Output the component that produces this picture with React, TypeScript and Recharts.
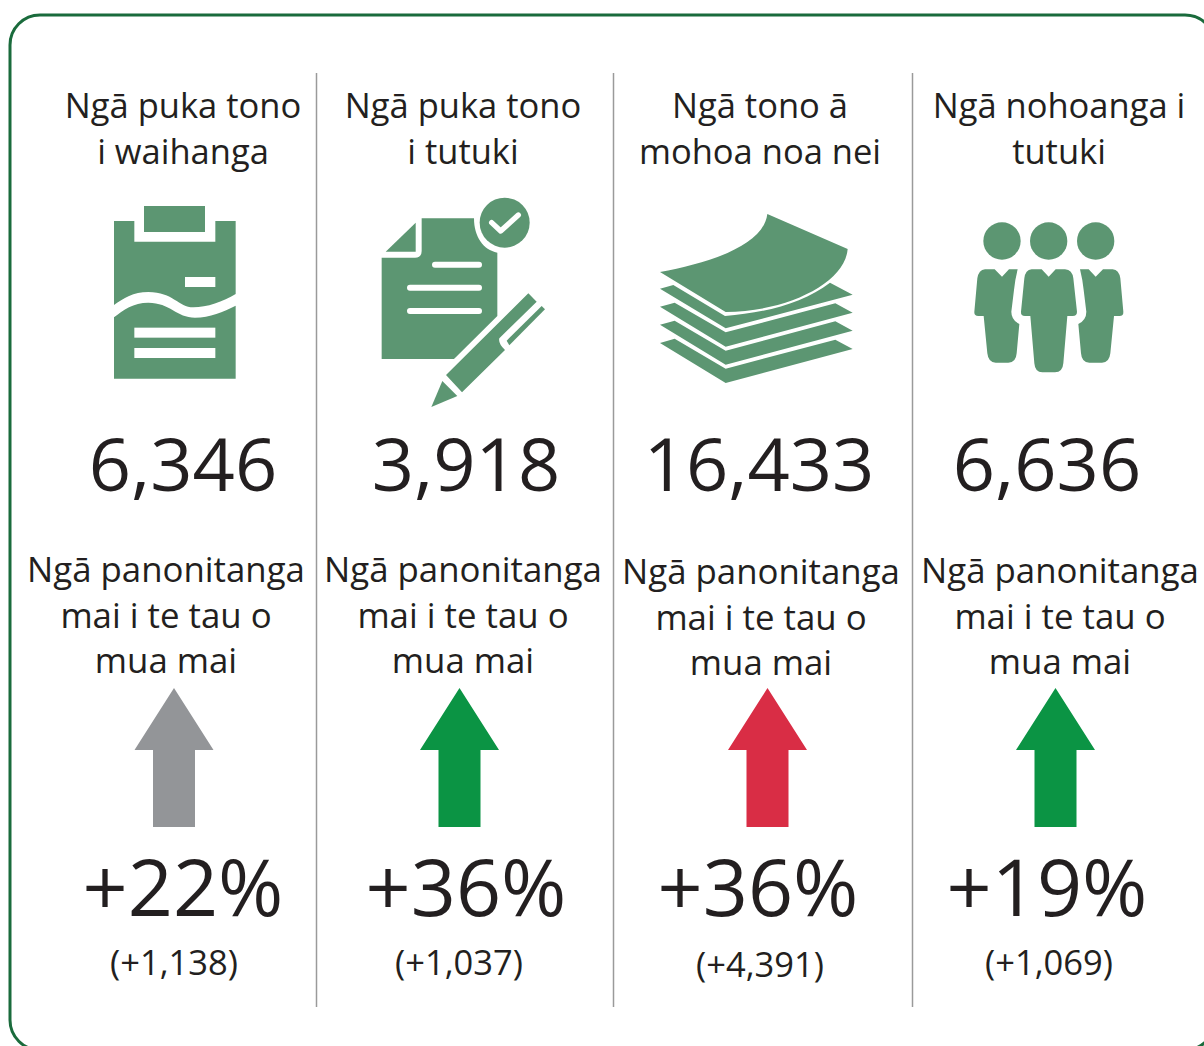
import { ComposedChart, Scatter, XAxis, YAxis, ReferenceLine, ReferenceArea } from 'recharts';

const titles = [
  ['Ngā puka tono', 'i waihanga'],
  ['Ngā puka tono', 'i tutuki'],
  ['Ngā tono ā', 'mohoa noa nei'],
  ['Ngā nohoanga i', 'tutuki'],
];
const totals = ['6,346', '3,918', '16,433', '6,636'];
const changeCaption = ['Ngā panonitanga', 'mai i te tau o', 'mua mai'];
const percents = ['+22%', '+36%', '+36%', '+19%'];
const deltas = ['(+1,138)', '(+1,037)', '(+4,391)', '(+1,069)'];
const arrowColors = ['#939598', '#0b9444', '#d92d45', '#0b9444'];

// where each column's pieces sit, the source isn't on an even grid
const titleX = [183, 463, 760, 1059];
const totalX = [183, 466, 759, 1047];
const captionX = [166, 463, 761, 1060];
const captionY = [582, 582, 584, 583];
const arrowX = [174, 459.5, 767.5, 1055.5];
const percentX = [183, 466, 758, 1047];
const deltaX = [174, 459, 760, 1049];
const deltaY = [975, 975, 977, 975];
const dividers = [316.5, 613.5, 912.5];

const INK = '#231f20';
const ICON = '#5c9672';
const FONT = '"Open Sans", sans-serif';

const TextMark = (props: any) => {
  const { cx, cy, payload } = props;
  return (
    <text x={cx} y={cy} textAnchor="middle" fontFamily={FONT} fontSize={payload.size} fill={INK}>
      {payload.label}
    </text>
  );
};

const Arrow = (props: any) => {
  const { cx, cy, payload } = props;
  const d = `M${cx},${cy} L${cx + 39.5},${cy + 62} L${cx + 21},${cy + 62} L${cx + 21},${cy + 139} L${cx - 21},${cy + 139} L${cx - 21},${cy + 62} L${cx - 39.5},${cy + 62} Z`;
  return <path d={d} fill={payload.color} />;
};

// icons are traced at 3x, so they get scaled down when drawn
const clipboard = (
  <>
    <rect x={162} y={48} width={183} height={78} fill={ICON} />
    <path fill={ICON} d="M72,93 L133,93 L133,155 L376,155 L376,93 L437,93 L437,312 C400,335 350,352 310,352 C265,352 250,306 175,306 C130,306 100,325 72,345 Z" />
    <path fill={ICON} d="M72,382 C100,360 130,338 175,338 C240,338 260,383 315,383 C360,383 400,365 437,347 L437,566 L72,566 Z" />
    <rect x={285} y={261} width={91} height={30} fill="#fff" />
    <rect x={133} y={413} width={243} height={30} fill="#fff" />
    <rect x={133} y={474} width={243} height={30} fill="#fff" />
  </>
);

const signedDoc = (
  <>
    <path fill={ICON} d="M875,203 L975,203 Q995,203 995,183 L995,85 L1152,85 C1152,140 1180,180 1222,188 L1222,378 L1092,507 L875,507 Z" />
    <path fill={ICON} d="M887,185 L977,98 L977,185 Z" />
    <circle cx={1244} cy={98} r={75} fill={ICON} />
    <path d="M1205,98 L1232,123 L1285,75" fill="none" stroke="#fff" strokeWidth={16} strokeLinecap="round" strokeLinejoin="round" />
    <path d="M1035,224 L1167,224 M960,293 L1167,293 M960,363 L1167,363" fill="none" stroke="#fff" strokeWidth={18} strokeLinecap="round" />
    <path fill={ICON} d="M1068,555 L1315,310 L1340,335 L1228,445 Q1224,460 1245,480 L1116,607 Z" />
    <path fill={ICON} d="M1250,452 L1355,348 L1365,358 L1258,466 Z" />
    <path fill={ICON} d="M1057,573 L1102,618 L1024,651 Z" />
  </>
);

const paperStack = (
  <>
    <path fill={ICON} d="M382,72 L623,177 C615,280 440,365 257,366 L60,246 C200,220 370,170 382,72 Z" />
    <path fill={ICON} d="M60,296 L100,285 L255,378 C370,370 490,340 570,278 L638,314 L257,415 Z" />
    <path fill={ICON} d="M60,350 L104,338 L257,427 L586,340 L638,368 L257,470 Z" />
    <path fill={ICON} d="M60,404 L104,392 L257,482 L586,394 L638,422 L257,524 Z" />
    <path fill={ICON} d="M60,459 L104,446 L257,536 L586,449 L638,477 L257,579 Z" />
  </>
);

const sidePerson = 'M1035,238 L1064,238 L1086,260 L1107,238 L1133,238 Q1125,270 1122,300 L1114,365 Q1114,390 1138,402 L1130,490 Q1128,518 1105,518 L1067,518 Q1045,518 1042,490 L1031,378 L1015,378 Q1002,378 1003,365 L1012,265 Q1016,240 1035,238 Z';
const people = (
  <>
    <circle cx={1086} cy={153} r={56} fill={ICON} />
    <circle cx={1226} cy={153} r={56} fill={ICON} />
    <circle cx={1367} cy={153} r={56} fill={ICON} />
    <path fill={ICON} d={sidePerson} />
    <path fill={ICON} d={sidePerson} transform="translate(2453,0) scale(-1,1)" />
    <path fill={ICON} d="M1175,238 L1205,238 L1226,260 L1247,238 L1275,238 Q1297,240 1300,265 L1311,365 Q1311,378 1298,378 L1282,378 L1270,520 Q1268,547 1245,547 L1207,547 Q1185,547 1183,520 L1171,378 L1155,378 Q1142,378 1143,365 L1153,265 Q1156,240 1175,238 Z" />
  </>
);

const icons = [clipboard, signedDoc, paperStack, people];
const iconOrigins = [
  { x: 90, y: 190 },
  { x: 90, y: 190 },
  { x: 640, y: 190 },
  { x: 640, y: 190 },
];

const IconMark = (props: any) => {
  const { cx, cy, payload } = props;
  return <g transform={`translate(${cx},${cy}) scale(${1 / 3})`}>{icons[payload.index]}</g>;
};

const titleMarks = titles.flatMap((lines, i) =>
  lines.map((label, l) => ({ x: titleX[i], y: 118 + l * 46, label, size: 34.5 })),
);
const totalMarks = totals.map((label, i) => ({ x: totalX[i], y: 491, label, size: 74 }));
const captionMarks = captionX.flatMap((x, i) =>
  changeCaption.map((label, l) => ({ x, y: captionY[i] + l * 45.5, label, size: 34.8 })),
);
const arrowMarks = arrowX.map((x, i) => ({ x, y: 688, color: arrowColors[i] }));
const percentMarks = percents.map((label, i) => ({ x: percentX[i], y: 916, label, size: 79 }));
const deltaMarks = deltas.map((label, i) => ({ x: deltaX[i], y: deltaY[i], label, size: 34.5 }));
const iconMarks = iconOrigins.map((o, index) => ({ ...o, index }));

export default function App() {
  return (
    <div style={{ position: 'absolute', left: 0, top: 0, width: 1204, height: 1046, overflow: 'hidden', background: '#fff' }}>
      <ComposedChart width={1204} height={1046} margin={{ top: 0, right: 0, bottom: 0, left: 0 }}>
        <XAxis type="number" dataKey="x" domain={[0, 1204]} hide />
        <YAxis type="number" dataKey="y" domain={[0, 1046]} reversed hide />
        <ReferenceArea x1={10} x2={1215} y1={15} y2={1050} ifOverflow="visible" radius={30} fill="#fff" stroke="#1a6b3c" strokeWidth={3} />
        {dividers.map((x) => (
          <ReferenceLine key={x} ifOverflow="visible" segment={[{ x, y: 73 }, { x, y: 1007 }]} stroke="#9a9a9a" strokeWidth={1.5} />
        ))}
        <Scatter data={iconMarks} shape={IconMark} isAnimationActive={false} />
        <Scatter data={titleMarks} shape={TextMark} isAnimationActive={false} />
        <Scatter data={totalMarks} shape={TextMark} isAnimationActive={false} />
        <Scatter data={captionMarks} shape={TextMark} isAnimationActive={false} />
        <Scatter data={arrowMarks} shape={Arrow} isAnimationActive={false} />
        <Scatter data={percentMarks} shape={TextMark} isAnimationActive={false} />
        <Scatter data={deltaMarks} shape={TextMark} isAnimationActive={false} />
      </ComposedChart>
    </div>
  );
}
